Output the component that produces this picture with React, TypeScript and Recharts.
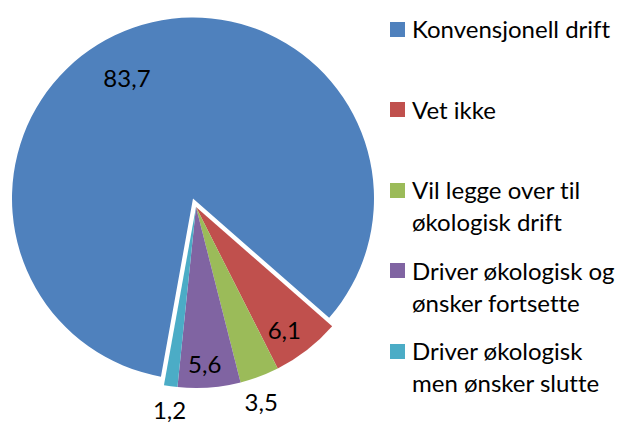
import { PieChart, Pie, Cell, Legend } from 'recharts';

const categories = [
  'Konvensjonell drift',
  'Vet ikke',
  'Vil legge over til økologisk drift',
  'Driver økologisk og ønsker fortsette',
  'Driver økologisk men ønsker slutte',
];
const values = [83.7, 6.1, 3.5, 5.6, 1.2];
const legendLines = [
  ['Konvensjonell drift'],
  ['Vet ikke'],
  ['Vil legge over til', 'økologisk drift'],
  ['Driver økologisk og', 'ønsker fortsette'],
  ['Driver økologisk', 'men ønsker slutte'],
];

const colors = ['#4F81BD', '#C0504D', '#9BBB59', '#8064A2', '#4BACC6'];
const FONT = 'Lato, "Open Sans", sans-serif';

// exploded first slice
const EXPLODE = { dx: -3, dy: -8.5 };
// label radius and angle tweak (degrees, recharts direction) per slice
const labelPlace = [
  { r: 138, da: 9.3 },
  { r: 151, da: -2 },
  { r: 205, da: -2 },
  { r: 157, da: -1 },
  { r: 204, da: 0.6 },
];

const chartData = categories.map((name, i) => ({ name, value: values[i] }));

const RAD = Math.PI / 180;

function renderLabel(props: any) {
  const { cx, cy, midAngle, index, value } = props;
  const p = labelPlace[index];
  const a = (midAngle + p.da) * RAD;
  let x = cx + p.r * Math.cos(-a);
  let y = cy + p.r * Math.sin(-a);
  if (index === 0) {
    x += EXPLODE.dx;
    y += EXPLODE.dy;
  }
  return (
    <text
      x={x}
      y={y}
      textAnchor="middle"
      dominantBaseline="central"
      fill="#000"
      fontSize={24}
      fontFamily={FONT}
    >
      {String(value).replace('.', ',')}
    </text>
  );
}

function renderLegend() {
  return (
    <div style={{ fontFamily: FONT, fontSize: 24, color: '#000', fontVariantLigatures: 'none' }}>
      {legendLines.map((lines, i) => (
        <div
          key={i}
          style={{ position: 'relative', height: 80.6, paddingLeft: 22 }}
        >
          <span
            style={{
              position: 'absolute',
              left: 0,
              top: 8.5,
              width: 15,
              height: 15,
              background: colors[i],
            }}
          />
          {lines.map((l, j) => (
            <div key={j} style={{ lineHeight: '32px', whiteSpace: 'nowrap' }}>
              {l}
            </div>
          ))}
        </div>
      ))}
    </div>
  );
}

export default function App() {
  return (
    <div style={{ position: 'absolute', left: 0, top: 0, width: 620, height: 423, background: '#fff' }}>
      <PieChart width={620} height={423} margin={{ top: 0, right: 0, bottom: 0, left: 0 }}>
        <Pie
          data={chartData}
          dataKey="value"
          nameKey="name"
          cx={196}
          cy={207}
          outerRadius={181}
          startAngle={-100.2}
          endAngle={-460.2}
          stroke="none"
          label={renderLabel}
          labelLine={false}
          isAnimationActive={false}
        >
          {chartData.map((d, i) => (
            <Cell
              key={d.name}
              fill={colors[i]}
              transform={i === 0 ? `translate(${EXPLODE.dx},${EXPLODE.dy})` : undefined}
            />
          ))}
        </Pie>
        <Legend
          layout="vertical"
          align="right"
          verticalAlign="top"
          content={renderLegend}
          wrapperStyle={{ left: 390, top: 13, width: 230 }}
        />
      </PieChart>
    </div>
  );
}
